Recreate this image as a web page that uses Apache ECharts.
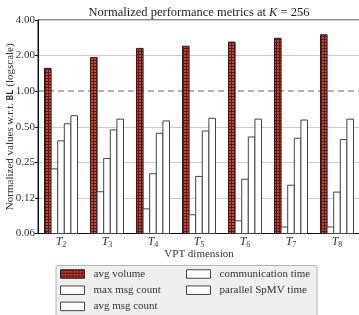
<!DOCTYPE html>
<html>
<head>
<meta charset="utf-8">
<script src="https://cdn.jsdelivr.net/npm/echarts@6/dist/echarts.min.js"></script>
<style>
  html, body { margin: 0; padding: 0; background: #fff; }
  #chart { width: 359px; height: 315px; }
</style>
</head>
<body>
<div id="chart"></div>
<script>
const categories = ['T2', 'T3', 'T4', 'T5', 'T6', 'T7', 'T8'];
const avgVolume = [1.56, 1.93, 2.30, 2.40, 2.60, 2.80, 3.00];
const maxMsgCount = [0.22, 0.141, 0.101, 0.090, 0.080, 0.071, 0.071];
const avgMsgCount = [0.38, 0.27, 0.20, 0.19, 0.18, 0.16, 0.14];
const commTime = [0.53, 0.47, 0.44, 0.46, 0.41, 0.40, 0.39];
const spmvTime = [0.62, 0.58, 0.56, 0.59, 0.58, 0.57, 0.58];
const yTickValues = [0.0625, 0.125, 0.25, 0.5, 1, 2, 4];
const yTickLabels = ['0.06', '0.12', '0.25', '0.50', '1.00', '2.00', '4.00'];

const FONT = "'Liberation Serif', 'DejaVu Serif', serif";
const BAR_W = 6.6;
const Y_MIN = 0.0625;

// red checkered fill
const pat = document.createElement('canvas');
pat.width = 3; pat.height = 3;
const pc = pat.getContext('2d');
pc.fillStyle = '#d63d30';
pc.fillRect(0, 0, 3, 3);
pc.fillStyle = '#5a1a14';
pc.fillRect(0, 0, 3, 1);
pc.fillRect(0, 0, 1, 3);
const redFill = { image: pat, repeat: 'repeat' };

const chart = echarts.init(document.getElementById('chart'));

const redStyle = { color: redFill, borderColor: '#222', borderWidth: 1 };
const whiteStyle = { color: '#fff', borderColor: '#444', borderWidth: 1 };

// bars on a log axis start at 1 in echarts, so draw them from the axis min
function bar(name, values, k, style) {
  return {
    name: name, type: 'custom', itemStyle: style,
    data: values.map((v, i) => [i, v]),
    encode: { x: 0, y: 1 },
    renderItem: function (params, api) {
      const top = api.coord([api.value(0), api.value(1)]);
      const bottom = api.coord([api.value(0), Y_MIN]);
      const x = top[0] + (k - 2.5) * BAR_W;
      return {
        type: 'rect',
        shape: { x: x, y: top[1], width: BAR_W, height: bottom[1] - top[1] },
        style: { fill: style.color, stroke: style.borderColor, lineWidth: style.borderWidth }
      };
    }
  };
}

const logAxis = { type: 'log', logBase: 2, min: Y_MIN, max: 4, interval: 1 };

function legendItem(name, style, left, row) {
  return {
    data: [{ name: name, icon: 'rect', itemStyle: style }],
    left: left, top: 268 + row * 16.2, padding: 0, itemWidth: 24, itemHeight: 8.5,
    textStyle: { fontFamily: FONT, fontSize: 11, lineHeight: 12, color: '#333', padding: [0, 0, 0, 4] }
  };
}

chart.setOption({
  animation: false,
  title: {
    text: 'Normalized performance metrics at {i|K} = 256',
    left: 199, top: 6, padding: 0, textAlign: 'center',
    textStyle: {
      fontFamily: FONT, fontSize: 12.5, fontWeight: 'normal', color: '#222',
      rich: { i: { fontFamily: FONT, fontSize: 12.5, fontStyle: 'italic', color: '#222' } }
    }
  },
  grid: {
    left: 38, top: 20, width: 322, height: 213.5, outerBoundsMode: 'none',
    show: true, borderColor: '#111', borderWidth: 1
  },
  xAxis: {
    type: 'category', data: categories,
    axisLine: { lineStyle: { color: '#111' } },
    axisTick: { show: false },
    axisLabel: {
      margin: 1, interval: 0,
      formatter: v => '{t|T}{s|' + v.slice(1) + '}',
      rich: {
        t: { fontFamily: FONT, fontStyle: 'italic', fontSize: 12, color: '#333' },
        s: { fontFamily: FONT, fontSize: 8, color: '#333', padding: [6, 0, 0, 0] }
      }
    },
    name: 'VPT dimension', nameLocation: 'middle', nameGap: 15.5, nameMoveOverlap: false,
    nameTextStyle: { fontFamily: FONT, fontSize: 11, color: '#333' }
  },
  yAxis: [
    Object.assign({}, logAxis, {
      axisLine: { show: true, lineStyle: { color: '#111' } },
      axisTick: { show: true, length: 3, lineStyle: { color: '#111' } },
      axisLabel: {
        margin: 3, fontFamily: FONT, fontSize: 11, color: '#333',
        formatter: v => {
          let best = 0;
          yTickValues.forEach((t, i) => { if (Math.abs(Math.log2(t) - Math.log2(v)) < Math.abs(Math.log2(yTickValues[best]) - Math.log2(v))) best = i; });
          return yTickLabels[best];
        }
      },
      splitLine: { show: true, lineStyle: { color: ['#cccccc', '#cccccc', '#cccccc', '#cccccc', 'rgba(0,0,0,0)', '#cccccc', '#cccccc'], width: 1 } },
      name: 'Normalized values w.r.t. {b|BL} (logscale)', nameLocation: 'middle', nameRotate: 90, nameGap: 22, nameMoveOverlap: false,
      nameTextStyle: {
        fontFamily: FONT, fontSize: 11, color: '#333',
        rich: { b: { fontFamily: "'DejaVu Sans Mono', monospace", fontWeight: 'bold', fontSize: 9, color: '#333' } }
      }
    }),
    Object.assign({}, logAxis, {
      axisLine: { show: false }, axisTick: { show: false }, axisLabel: { show: false },
      splitLine: { show: true, lineStyle: { color: ['rgba(0,0,0,0)', 'rgba(0,0,0,0)', 'rgba(0,0,0,0)', 'rgba(0,0,0,0)', '#999999', 'rgba(0,0,0,0)', 'rgba(0,0,0,0)'], width: 1.5, type: [6, 4] } }
    })
  ],
  legend: [
    legendItem('avg volume', redStyle, 60, 0),
    legendItem('max msg count', whiteStyle, 60, 1),
    legendItem('avg msg count', whiteStyle, 60, 2),
    legendItem('communication time', whiteStyle, 186, 0),
    legendItem('parallel SpMV time', whiteStyle, 186, 1)
  ],
  graphic: [
    {
      type: 'rect', z: 0, silent: true,
      shape: { x: 56, y: 265.5, width: 261, height: 60, r: 2 },
      style: { fill: '#efefef', stroke: '#b5b5b5', lineWidth: 1 }
    }
  ],
  series: [
    bar('avg volume', avgVolume, 0, redStyle),
    bar('max msg count', maxMsgCount, 1, whiteStyle),
    bar('avg msg count', avgMsgCount, 2, whiteStyle),
    bar('communication time', commTime, 3, whiteStyle),
    bar('parallel SpMV time', spmvTime, 4, whiteStyle)
  ]
});
</script>
</body>
</html>
